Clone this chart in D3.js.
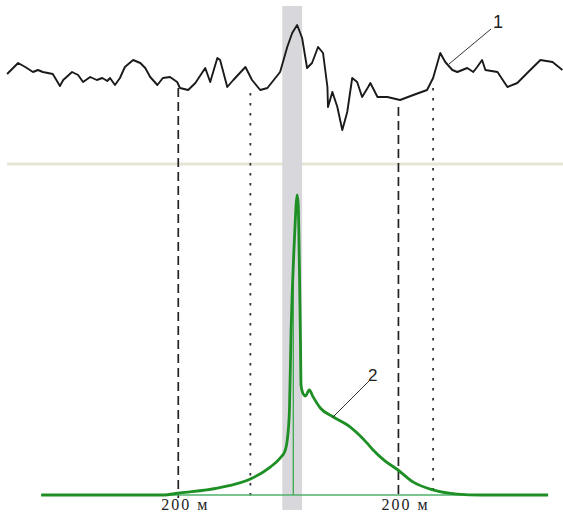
<!DOCTYPE html>
<html>
<head>
<meta charset="utf-8">
<script src="https://cdn.jsdelivr.net/npm/d3@7"></script>
<style>
  body { margin: 0; background: #fff; }
  svg { display: block; }
</style>
</head>
<body>
<svg></svg>
<script>
const width = 563, height = 516;

// profile distance (m) and upper curve values (arbitrary units)
const topDist = [-518,-498,-485,-471,-462,-453,-435,-422,-416,-400,-389,-380,-367,-355,-345,-336,-331,-322,-313,-304,-289,-276,-267,-258,-245,-235,-222,-209,-204,-189,-176,-158,-149,-136,-131,-118,-107,-85,-73,-58,-45,-22,-9,0,9,18,27,36,47,56,64,65,73,82,91,100,109,118,127,138,142,155,173,196,220,245,256,269,278,291,300,318,329,336,345,351,373,391,409,427,451,473,491];
const topVal = [26,37,33,28,30,28,26,14,20,28,25,18,23,20,22,19,22,15,22,33,40,37,32,23,15,22,23,18,12,10,17,32,18,42,40,13,20,33,20,10,12,28,53,67,75,62,32,37,53,47,13,-7,8,-7,-30,-12,22,18,3,13,17,3,3,0,5,10,22,47,38,30,28,32,28,33,40,30,28,13,17,27,40,38,30];

// lower (green) curve
const lowDist = [-456,-313,-235,-204,-136,-76,-40,-22,-13,-9,-5,-2,4,9,11,13,15,16,20,24,31,38,51,75,105,136,147,169,191,220,256,300,342,465];
const lowVal = [0,0,0,0.7,2.3,5.3,9.3,12.3,14.7,18.3,28.3,55,85,100,96.7,76.7,51.7,36.7,33.7,33,35,32.7,29,26,22.7,17.3,15,11.3,8.5,4.3,1.7,0.3,0,0];

// markers
const dashedAt = [-207, 193];
const dashedTop = [12, -7];
const dottedAt = [-76, 256];
const dottedTop = [7, 12];
const bandRange = [-18, 18];
const innerLine = {dist: 2, top: 74};
const axisLabels = [{at: -207, text: "200 м"}, {at: 193, text: "200 м"}];

const svg = d3.select("svg").attr("width", width).attr("height", height);

const x = d3.scaleLinear().domain([-520, 492]).range([6, 563]);
const yTop = d3.scaleLinear().domain([0, 100]).range([100, 0]);
const yLow = d3.scaleLinear().domain([0, 100]).range([495, 195]);

// separator line
svg.append("line")
    .attr("x1", 7).attr("x2", width)
    .attr("y1", 164).attr("y2", 164)
    .attr("stroke", "#e7e5d6").attr("stroke-width", 3);

// gray band
svg.append("rect")
    .attr("x", x(bandRange[0]))
    .attr("width", x(bandRange[1]) - x(bandRange[0]))
    .attr("y", 6).attr("height", 504)
    .attr("fill", "#d8d8dc");

// vertical marker lines
dashedAt.forEach((d, i) => {
    svg.append("line")
        .attr("x1", x(d)).attr("x2", x(d))
        .attr("y1", yTop(dashedTop[i])).attr("y2", 498)
        .attr("stroke", "#222").attr("stroke-width", 1.7)
        .attr("stroke-dasharray", "9,5");
});
dottedAt.forEach((d, i) => {
    svg.append("line")
        .attr("x1", x(d)).attr("x2", x(d))
        .attr("y1", yTop(dottedTop[i])).attr("y2", 496)
        .attr("stroke", "#333").attr("stroke-width", 1.8)
        .attr("stroke-dasharray", "2.5,7.5");
});

// baseline of lower curve
svg.append("line")
    .attr("x1", 41).attr("x2", 548)
    .attr("y1", yLow(0)).attr("y2", yLow(0))
    .attr("stroke", "#4fb06a").attr("stroke-width", 1.3);

// inner thin green line
svg.append("line")
    .attr("x1", x(innerLine.dist)).attr("x2", x(innerLine.dist))
    .attr("y1", yLow(innerLine.top)).attr("y2", yLow(0))
    .attr("stroke", "#3aa84a").attr("stroke-width", 1.3);

// upper curve
const topLine = d3.line().x((d, i) => x(topDist[i])).y(d => yTop(d));
svg.append("path")
    .attr("d", topLine(topVal))
    .attr("fill", "none")
    .attr("stroke", "#1a1a1a")
    .attr("stroke-width", 1.9)
    .attr("stroke-linejoin", "round");

// lower curve
const lowLine = d3.line().x((d, i) => x(lowDist[i])).y(d => yLow(d)).curve(d3.curveMonotoneX);
svg.append("path")
    .attr("d", lowLine(lowVal))
    .attr("fill", "none")
    .attr("stroke", "#1e8f24")
    .attr("stroke-width", 2.8)
    .attr("stroke-linejoin", "round");

// labels with leaders
svg.append("line")
    .attr("x1", 491).attr("y1", 29).attr("x2", 449).attr("y2", 64)
    .attr("stroke", "#333").attr("stroke-width", 1);
svg.append("text")
    .attr("x", 493).attr("y", 28)
    .attr("font-family", "Liberation Sans, Arial, sans-serif")
    .attr("font-size", 18).attr("fill", "#222")
    .text("1");

svg.append("line")
    .attr("x1", 369).attr("y1", 381).attr("x2", 332).attr("y2", 418)
    .attr("stroke", "#333").attr("stroke-width", 1);
svg.append("text")
    .attr("x", 368).attr("y", 381)
    .attr("font-family", "Liberation Sans, Arial, sans-serif")
    .attr("font-size", 17).attr("fill", "#222")
    .text("2");

// distance labels
svg.selectAll("text.dist")
    .data(axisLabels)
    .enter().append("text")
    .attr("class", "dist")
    .attr("x", d => x(d.at) - 17)
    .attr("y", 510)
    .attr("font-family", "Liberation Serif, Times New Roman, serif")
    .attr("font-size", 16)
    .attr("letter-spacing", 2)
    .attr("fill", "#222")
    .text(d => d.text);
</script>
</body>
</html>
